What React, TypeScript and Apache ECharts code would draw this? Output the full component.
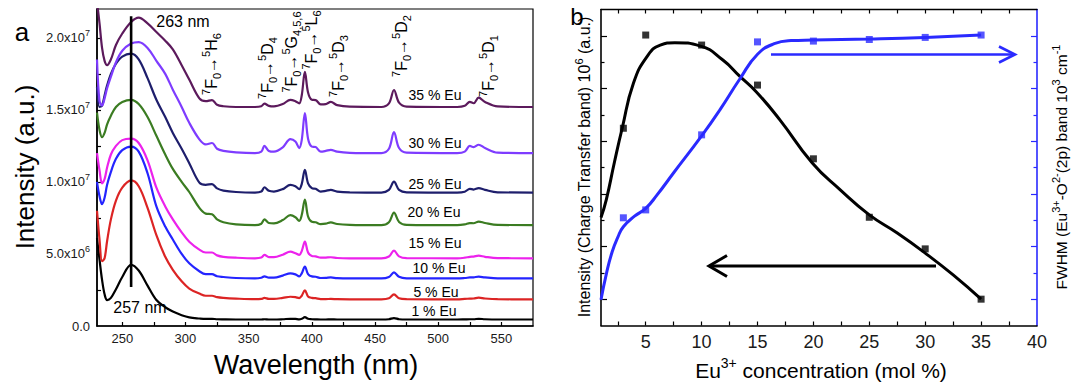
import React, { useEffect, useRef } from 'react';
import * as echarts from 'echarts';

const FONT = '"Liberation Sans", Arial, Helvetica, sans-serif';

// ---------- Panel a: excitation spectra (intensity in units of 1e6) ----------
const wavelengths = [230, 232, 234, 236, 238, 241, 245, 250, 257, 263, 270, 277, 284, 290, 297, 303, 311, 316, 321, 325, 330, 340, 355, 360, 362.5, 366, 370, 377, 383, 387, 390, 392, 394.5, 397, 400, 403, 407, 411, 415, 420, 430, 455, 461, 465, 469, 475, 515, 521, 525, 528, 532, 537, 547, 575];

const eu1 = [6.1, 4.6, 3.2, 2.2, 1.8, 1.95, 2.55, 3.4, 4.24, 3.85, 2.8, 1.8, 1.3, 1.0, 0.75, 0.6, 0.52, 0.49, 0.5, 0.47, 0.46, 0.45, 0.45, 0.45, 0.47, 0.45, 0.45, 0.47, 0.5, 0.49, 0.46, 0.5, 0.61, 0.5, 0.47, 0.46, 0.45, 0.45, 0.46, 0.45, 0.45, 0.45, 0.47, 0.55, 0.47, 0.45, 0.45, 0.46, 0.47, 0.47, 0.5, 0.47, 0.45, 0.45];
const eu5 = [8.0, 6.0, 4.5, 4.7, 5.9, 7.4, 8.7, 9.6, 10.1, 9.7, 8.2, 6.3, 4.8, 3.9, 3.1, 2.6, 2.25, 2.1, 2.1, 2.0, 1.95, 1.9, 1.86, 1.88, 1.95, 1.88, 1.88, 1.95, 2.03, 2.0, 1.94, 2.1, 2.48, 2.05, 1.95, 1.93, 1.87, 1.87, 1.88, 1.86, 1.85, 1.85, 1.92, 2.2, 1.92, 1.86, 1.85, 1.88, 1.9, 1.91, 1.97, 1.91, 1.86, 1.85];
const eu10 = [10.0, 9.0, 8.45, 8.9, 9.8, 10.7, 11.6, 12.2, 12.45, 12.1, 10.6, 8.3, 6.9, 6.0, 5.0, 4.35, 3.8, 3.6, 3.6, 3.45, 3.4, 3.33, 3.3, 3.35, 3.45, 3.36, 3.36, 3.5, 3.65, 3.58, 3.44, 3.65, 4.13, 3.6, 3.44, 3.42, 3.33, 3.34, 3.37, 3.32, 3.3, 3.3, 3.4, 3.72, 3.41, 3.31, 3.3, 3.33, 3.37, 3.38, 3.42, 3.37, 3.31, 3.3];
const eu15 = [12.0, 10.8, 9.9, 10.2, 11.0, 11.9, 12.5, 12.9, 13.0, 12.7, 11.5, 9.6, 8.3, 7.4, 6.5, 5.85, 5.3, 5.1, 5.1, 4.9, 4.8, 4.74, 4.7, 4.75, 4.93, 4.78, 4.78, 4.95, 5.16, 5.05, 4.93, 5.2, 5.85, 5.1, 4.86, 4.83, 4.74, 4.75, 4.77, 4.72, 4.7, 4.7, 4.82, 5.23, 4.83, 4.71, 4.7, 4.74, 4.8, 4.82, 4.88, 4.8, 4.71, 4.7];
const eu20 = [14.8, 13.6, 13.1, 13.4, 14.0, 14.6, 15.2, 15.55, 15.7, 15.4, 14.5, 13.2, 11.9, 10.9, 10.0, 9.3, 8.2, 7.8, 7.75, 7.4, 7.2, 7.05, 7.0, 7.1, 7.4, 7.15, 7.12, 7.35, 7.69, 7.55, 7.3, 7.7, 8.78, 7.6, 7.23, 7.2, 7.07, 7.1, 7.19, 7.08, 7.02, 7.0, 7.2, 7.87, 7.22, 7.02, 7.0, 7.05, 7.14, 7.13, 7.25, 7.15, 7.02, 7.0];
const eu25 = [16.6, 15.2, 15.3, 16.0, 16.7, 17.5, 18.2, 18.7, 18.9, 18.5, 17.2, 15.7, 14.5, 13.4, 12.3, 11.3, 9.95, 9.8, 9.85, 9.55, 9.4, 9.3, 9.26, 9.33, 9.63, 9.38, 9.33, 9.5, 9.8, 9.7, 9.5, 9.85, 10.84, 9.9, 9.57, 9.52, 9.33, 9.38, 9.45, 9.33, 9.27, 9.26, 9.45, 10.02, 9.45, 9.28, 9.26, 9.32, 9.52, 9.47, 9.57, 9.45, 9.28, 9.26];
const eu30 = [18.5, 15.6, 15.3, 15.8, 16.5, 17.3, 18.3, 19.1, 19.6, 19.7, 19.3, 18.4, 17.5, 16.4, 15.2, 14.1, 12.95, 12.6, 12.7, 12.3, 12.15, 12.05, 12.0, 12.1, 12.5, 12.15, 12.1, 12.4, 12.97, 12.8, 12.35, 12.9, 14.78, 13.0, 12.45, 12.42, 12.1, 12.15, 12.23, 12.1, 12.02, 12.0, 12.3, 13.46, 12.35, 12.03, 12.0, 12.1, 12.5, 12.42, 12.58, 12.35, 12.03, 12.0];
const eu35 = [22.5, 21.0, 19.3, 18.4, 18.1, 18.5, 19.5, 20.3, 21.1, 21.4, 21.0, 20.4, 19.8, 19.2, 18.1, 17.1, 15.8, 15.6, 15.68, 15.35, 15.25, 15.2, 15.2, 15.25, 15.43, 15.28, 15.24, 15.4, 15.7, 15.6, 15.45, 16.0, 17.63, 16.2, 15.7, 15.68, 15.38, 15.4, 15.55, 15.33, 15.22, 15.2, 15.45, 16.38, 15.5, 15.23, 15.2, 15.28, 15.55, 15.46, 15.85, 15.55, 15.24, 15.2];

const spectraLabels = ['1 % Eu', '5 % Eu', '10 % Eu', '15 % Eu', '20 % Eu', '25 % Eu', '30 % Eu', '35 % Eu'];
const spectraValues = [eu1, eu5, eu10, eu15, eu20, eu25, eu30, eu35];
const spectraColors = ['#000000', '#dc2424', '#2424ff', '#ec22ec', '#3b7c22', '#1e1e6c', '#7e3cff', '#5c1a5c'];

// vertical marker at 257 nm (wavelength, intensity 1e6 from/to)
const markerWave = [257, 257];
const markerIntensity = [2.7, 21.5];

const waveTicks = [250, 275, 300, 325, 350, 375, 400, 425, 450, 475, 500, 525, 550];
const waveLabels = [250, 300, 350, 400, 450, 500, 550];
const intensityTicks = [2.5, 5, 7.5, 10, 12.5, 15, 17.5, 20];
const intensityLabels = [0, 5, 10, 15, 20];

// ---------- Panel b ----------
const concentration = [3, 5, 10, 15, 20, 25, 30, 35];
const ctIntensity = [7.49, 11.03, 10.65, 9.13, 6.33, 4.11, 2.91, 1.0];
const fwhm = [4.09, 4.39, 7.24, 10.77, 10.8, 10.86, 10.94, 11.03];

const ctFitX = [1.0, 1.47, 2.2, 2.9, 3.9, 5.1, 6.3, 7.6, 9.9, 11.9, 13.4, 14.9, 17.0, 19.9, 22.4, 25.0, 27.5, 30.0, 32.5, 35.0];
const ctFitY = [4.1, 4.77, 6.2, 7.5, 9.2, 10.2, 10.65, 10.74, 10.61, 10.08, 9.47, 8.87, 7.81, 6.17, 5.15, 4.2, 3.51, 2.75, 1.92, 1.0];
const fwhmFitX = [1.0, 1.5, 2.0, 2.5, 3.0, 4.0, 5.0, 6.0, 7.5, 10.0, 11.65, 13.4, 15.0, 16.5, 18.0, 20.0, 25.0, 30.0, 35.0];
const fwhmFitY = [0.98, 2.0, 2.8, 3.35, 3.75, 4.15, 4.45, 4.95, 5.8, 7.2, 8.2, 9.35, 10.3, 10.7, 10.82, 10.84, 10.88, 10.94, 11.03];

const concTicks = [2.5, 5, 7.5, 10, 12.5, 15, 17.5, 20, 22.5, 25, 27.5, 30, 32.5, 35, 37.5];
const concLabels = [5, 10, 15, 20, 25, 30, 35, 40];
const bMajorTicks = [1, 3, 5, 7, 9, 11];
const bMinorTicks = [2, 4, 6, 8, 10];

const BLUE = '#2a2aff';

function supText(x: number, y: number, text: string, size: number, rot: number, fill = '#000') {
  return {
    type: 'text',
    x,
    y,
    rotation: rot,
    silent: true,
    style: {
      text,
      fill,
      align: 'center',
      verticalAlign: 'middle',
      textAlign: 'center',
      textVerticalAlign: 'middle',
      fontFamily: FONT,
      fontSize: size,
      rich: {
        m: { fontSize: size, fontFamily: FONT, fill, lineHeight: Math.round(size * 1.4), verticalAlign: 'middle' },
        s: { fontSize: Math.round(size * 0.68), fontFamily: FONT, fill, lineHeight: Math.round(size * 0.68), verticalAlign: 'top' },
        b: { fontSize: Math.round(size * 0.68), fontFamily: FONT, fill, lineHeight: Math.round(size * 0.68), verticalAlign: 'bottom' },
      },
    },
  };
}

function trans(upper: string, sub: string) {
  return `{s|7}{m|F}{b|0}{m|→}{s|5}{m|${upper}}{b|${sub}}`;
}

export default function App() {
  const ref = useRef<HTMLDivElement>(null);

  useEffect(() => {
    document.body.style.margin = '0';
    if (!ref.current) return;
    const chart = echarts.init(ref.current, undefined, { renderer: 'svg' });

    const spectraSeries = spectraValues.map((vals, i) => ({
      type: 'line',
      name: spectraLabels[i],
      xAxisIndex: 0,
      yAxisIndex: 0,
      data: wavelengths.map((w, j) => [w, vals[j] * 1e6]),
      smooth: 0.35,
      showSymbol: false,
      symbol: 'none',
      lineStyle: { color: spectraColors[i], width: 2.2 },
      itemStyle: { color: spectraColors[i] },
      z: 2 + i,
      silent: true,
    }));

    const tickStyle = (len: number, color = '#000') => ({
      show: true,
      inside: true,
      length: len,
      lineStyle: { color, width: 1.2 },
    });

    const option: any = {
      animation: false,
      backgroundColor: '#ffffff',
      grid: [
        { left: 97, top: 9, width: 436, height: 317, show: true, borderColor: '#000', borderWidth: 1.2, backgroundColor: 'transparent' },
        { left: 601, top: 9.5, width: 436, height: 316 },
      ],
      xAxis: [
        {
          gridIndex: 0, type: 'value', min: 230, max: 575, position: 'bottom',
          axisLine: { show: true, lineStyle: { color: '#000', width: 1.6 } },
          axisTick: { ...tickStyle(4), customValues: waveTicks },
          axisLabel: { customValues: waveLabels, fontSize: 13, color: '#1a1a1a', fontFamily: FONT, margin: 6 },
          splitLine: { show: false },
        },
        {
          gridIndex: 1, type: 'value', min: 1, max: 40, position: 'bottom',
          axisLine: { show: true, onZero: false, lineStyle: { color: '#000', width: 1.6 } },
          axisTick: { ...tickStyle(4), customValues: concTicks },
          axisLabel: { customValues: concLabels, fontSize: 18, color: '#1a1a1a', fontFamily: FONT, margin: 7 },
          splitLine: { show: false },
        },
        {
          gridIndex: 1, type: 'value', min: 1, max: 40, position: 'top',
          axisLine: { show: true, onZero: false, lineStyle: { color: '#000', width: 1.4 } },
          axisTick: { ...tickStyle(4), customValues: concTicks },
          axisLabel: { show: false },
          splitLine: { show: false },
        },
      ],
      yAxis: [
        {
          gridIndex: 0, type: 'value', min: 0, max: 2.2e7, position: 'left',
          axisLine: { show: true, lineStyle: { color: '#000', width: 1.6 } },
          axisTick: { ...tickStyle(4), customValues: intensityTicks.map((v) => v * 1e6) },
          axisLabel: {
            customValues: intensityLabels.map((v) => v * 1e6),
            margin: 7,
            color: '#1a1a1a',
            fontFamily: FONT,
            formatter: (v: number) => {
              if (v === 0) return '{m|0.0}';
              const e = Math.floor(Math.log10(v) + 1e-9);
              const m = v / Math.pow(10, e);
              return `{m|${m.toFixed(1)}x10}{s|${e}}`;
            },
            rich: {
              m: { fontSize: 13, fontFamily: FONT, color: '#1a1a1a', lineHeight: 18, verticalAlign: 'middle' },
              s: { fontSize: 9, fontFamily: FONT, color: '#1a1a1a', lineHeight: 9, verticalAlign: 'top' },
            },
          },
          splitLine: { show: false },
        },
        {
          gridIndex: 1, type: 'value', min: 0, max: 12, position: 'left',
          axisLine: { show: true, onZero: false, lineStyle: { color: '#000', width: 1.6 } },
          axisTick: { ...tickStyle(6), customValues: bMajorTicks },
          axisLabel: { show: false },
          splitLine: { show: false },
        },
        {
          gridIndex: 1, type: 'value', min: 0, max: 12, position: 'left',
          axisLine: { show: false },
          axisTick: { ...tickStyle(3.5), customValues: bMinorTicks },
          axisLabel: { show: false },
          splitLine: { show: false },
        },
        {
          gridIndex: 1, type: 'value', min: 0, max: 12, position: 'right',
          axisLine: { show: true, onZero: false, lineStyle: { color: BLUE, width: 1.6 } },
          axisTick: { ...tickStyle(6, BLUE), customValues: bMajorTicks },
          axisLabel: { show: false },
          splitLine: { show: false },
        },
        {
          gridIndex: 1, type: 'value', min: 0, max: 12, position: 'right',
          axisLine: { show: false },
          axisTick: { ...tickStyle(3.5, BLUE), customValues: bMinorTicks },
          axisLabel: { show: false },
          splitLine: { show: false },
        },
      ],
      series: [
        ...spectraSeries,
        {
          type: 'line',
          xAxisIndex: 0,
          yAxisIndex: 0,
          data: markerWave.map((w, i) => [w, markerIntensity[i] * 1e6]),
          symbol: 'none',
          lineStyle: { color: '#000', width: 2.6 },
          z: 20,
          silent: true,
        },
        {
          type: 'line',
          xAxisIndex: 1,
          yAxisIndex: 1,
          data: ctFitX.map((x, i) => [x, ctFitY[i]]),
          smooth: 0.5,
          symbol: 'none',
          lineStyle: { color: '#000', width: 3 },
          z: 5,
          silent: true,
        },
        {
          type: 'scatter',
          xAxisIndex: 1,
          yAxisIndex: 1,
          data: concentration.map((x, i) => [x, ctIntensity[i]]),
          symbol: 'rect',
          symbolSize: 7,
          itemStyle: { color: '#000' },
          z: 6,
          silent: true,
        },
        {
          type: 'line',
          xAxisIndex: 1,
          yAxisIndex: 3,
          data: fwhmFitX.map((x, i) => [x, fwhmFitY[i]]),
          smooth: 0.5,
          symbol: 'none',
          lineStyle: { color: BLUE, width: 3 },
          z: 5,
          silent: true,
        },
        {
          type: 'scatter',
          xAxisIndex: 1,
          yAxisIndex: 3,
          data: concentration.map((x, i) => [x, fwhm[i]]),
          symbol: 'rect',
          symbolSize: 7,
          itemStyle: { color: BLUE },
          z: 6,
          silent: true,
        },
      ],
      graphic: [
        supText(22, 32, 'a', 26, 0),
        supText(577, 16, 'b', 24, 0),
        supText(25, 167, 'Intensity (a.u.)', 26, Math.PI / 2),
        supText(316, 365, 'Wavelength (nm)', 27, 0),
        supText(183, 21, '263 nm', 16, 0),
        supText(140, 307, '257 nm', 16, 0),
        supText(211, 64, trans('H', '6'), 16, Math.PI / 2),
        supText(267, 68, trans('D', '4'), 16, Math.PI / 2),
        supText(291, 52, trans('G', '4,5,6'), 16, Math.PI / 2),
        supText(311, 40, trans('L', '6'), 16, Math.PI / 2),
        supText(338, 66, trans('D', '3'), 16, Math.PI / 2),
        supText(401, 46, trans('D', '2'), 16, Math.PI / 2),
        supText(488, 66, trans('D', '1'), 16, Math.PI / 2),
        supText(434, 311, spectraLabels[0], 14, 0),
        supText(436, 292, spectraLabels[1], 14, 0),
        supText(439, 268, spectraLabels[2], 14, 0),
        supText(435, 243, spectraLabels[3], 14, 0),
        supText(434, 212, spectraLabels[4], 14, 0),
        supText(435, 184, spectraLabels[5], 14, 0),
        supText(435, 143, spectraLabels[6], 14, 0),
        supText(435, 95, spectraLabels[7], 14, 0),
        supText(584, 167, '{m|Intensity (Charge Transfer band) 10}{s|6}{m| (a.u.)}', 16, Math.PI / 2),
        supText(1061, 167, '{m|FWHM (Eu}{s|3+}{m|-O}{s|2-}{m|(2p) band 10}{s|3}{m| cm}{s|-1}', 15.5, Math.PI / 2),
        supText(821, 370, '{m|Eu}{s|3+}{m| concentration (mol %)}', 21, 0),
        {
          type: 'polyline', silent: true,
          shape: { points: [[771, 54.5], [1014, 54.5]] },
          style: { stroke: BLUE, lineWidth: 2.6, fill: 'none' },
        },
        {
          type: 'polyline', silent: true,
          shape: { points: [[999, 46.5], [1015, 54.5], [999, 62.5]] },
          style: { stroke: BLUE, lineWidth: 2.6, fill: 'none' },
        },
        {
          type: 'polyline', silent: true,
          shape: { points: [[709, 266], [936, 266]] },
          style: { stroke: '#000', lineWidth: 3, fill: 'none' },
        },
        {
          type: 'polyline', silent: true,
          shape: { points: [[727, 255.5], [709, 266], [727, 276.5]] },
          style: { stroke: '#000', lineWidth: 3, fill: 'none' },
        },
      ],
    };

    chart.setOption(option);
    return () => chart.dispose();
  }, []);

  return <div ref={ref} style={{ width: 1072, height: 384 }} />;
}
